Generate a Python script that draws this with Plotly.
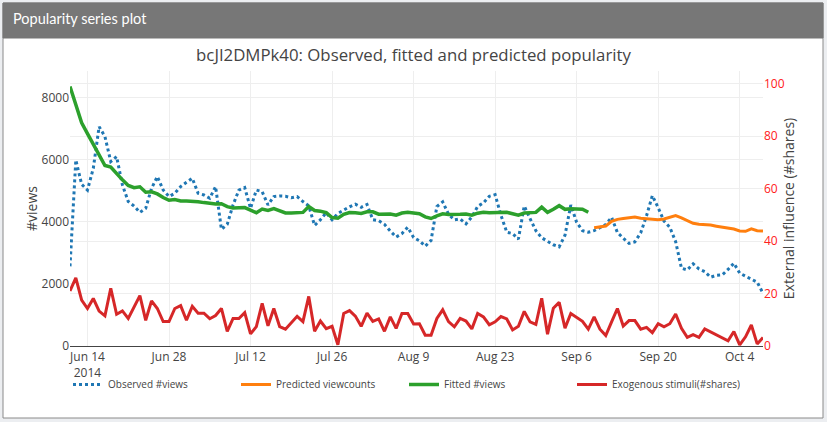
import pandas as pd
import plotly.graph_objects as go

START_DATE = "2014-06-11"
N_DAYS = 120
N_FIT = 90

observed_views = [
    2570, 6000, 5215, 5030, 5730, 7075, 6755, 5950, 6110, 5195,
    4660, 4515, 4310, 4440, 5085, 5465, 5030, 4820, 4925, 5140,
    5280, 5410, 4925, 4870, 4765, 5140, 3765, 3925, 4550, 5030,
    5110, 4440, 5030, 4980, 4550, 4820, 4840, 4830, 4780, 4820,
    4660, 4520, 3890, 4070, 4300, 4070, 4275, 4390, 4490, 4575,
    4475, 4565, 4075, 4045, 3925, 3710, 3515, 3625, 3830, 3500,
    3395, 3220, 3405, 4500, 4650, 4250, 4070, 4100, 3940, 4165,
    4500, 4620, 4830, 4880, 4220, 3670, 3625, 3450, 4515, 4110,
    3720, 3490, 3370, 3265, 3200, 3575, 4550, 3990, 3720, 3670,
    3720, 3820, 3920, 4150, 3660, 3480, 3310, 3360, 3650, 4200,
    4850, 4460, 4030, 3830, 3365, 2508, 2454, 2648, 2487, 2400,
    2218, 2280, 2293, 2470, 2669, 2350, 2240, 2153, 2060, 1702,
]

fitted_views = [
    8370, 7770, 7200, 6850, 6500, 6150, 5820, 5770, 5550, 5360,
    5180, 5105, 5135, 4960, 4975, 4905, 4790, 4700, 4725, 4680,
    4678, 4678, 4655, 4625, 4600, 4580, 4590, 4495, 4455, 4450,
    4465, 4380, 4300, 4415, 4375, 4430, 4370, 4290, 4290, 4305,
    4310, 4500, 4370, 4350, 4300, 4145, 4120, 4245, 4305, 4300,
    4275, 4328, 4328, 4250, 4248, 4260, 4220, 4290, 4310, 4290,
    4265, 4166, 4113, 4197, 4264, 4244, 4236, 4248, 4254, 4220,
    4285, 4312, 4301, 4301, 4321, 4312, 4264, 4220, 4290, 4296,
    4310, 4480, 4312, 4410, 4527, 4408, 4430, 4420, 4410, 4312,
]

predicted_views = [
    3812, 3845, 3870, 4020, 4085, 4112, 4135, 4160, 4120, 4100,
    4072, 4070, 4095, 4140, 4204, 4135, 4035, 3958, 3925, 3917,
    3900, 3865, 3830, 3793, 3772, 3710, 3700, 3780, 3720, 3710,
]

exogenous_shares = [
    21.0, 26.0, 17.5, 14.3, 18.1, 13.3, 11.5, 22.0, 12.1, 13.4,
    10.5, 14.6, 19.2, 9.8, 17.2, 14.3, 9.3, 9.3, 14.3, 15.4,
    9.8, 15.1, 12.5, 12.5, 10.4, 11.6, 14.3, 5.6, 10.5, 10.5,
    12.7, 4.6, 7.4, 16.2, 7.7, 14.3, 7.4, 6.4, 8.8, 11.3,
    9.3, 18.9, 5.6, 9.5, 6.6, 7.5, 0.5, 12.4, 13.5, 11.4,
    7.5, 12.5, 9.4, 10.3, 5.6, 11.1, 6.7, 12.4, 12.4, 8.4,
    8.5, 4.1, 4.1, 10.5, 13.8, 9.3, 7.3, 10.5, 9.5, 6.5,
    12.4, 11.1, 8.1, 9.2, 11.2, 10.3, 6.1, 7.5, 13.2, 9.2,
    8.2, 18.2, 4.5, 14.4, 16.6, 6.8, 12.4, 11.0, 9.4, 6.4,
    11.1, 6.4, 4.0, 9.2, 14.3, 7.6, 9.7, 9.7, 6.4, 7.1,
    5.1, 8.5, 7.3, 8.5, 12.2, 6.7, 3.3, 4.3, 3.3, 6.5,
    5.3, 4.2, 2.9, 2.0, 5.5, 0.4, 3.5, 8.0, 0.8, 3.2,
]

VIDEO_ID = "bcJI2DMPk40"
HEADER = "Popularity series plot"

dates = pd.date_range(START_DATE, periods=N_DAYS, freq="D")
fit_dates = dates[:N_FIT]
pred_dates = dates[N_FIT:]

W, H = 827, 422
ML, MR, MT, MB = 70, 64, 71, 76
PW, PH = W - ML - MR, H - MT - MB


def px_x(px):
    return (px - ML) / PW


def px_y(py):
    return (H - MB - py) / PH


fig = go.Figure()
fig.add_trace(go.Scatter(x=dates, y=observed_views, name="Observed #views", mode="lines",
                         line=dict(color="#1f77b4", width=3, dash="dot")))
fig.add_trace(go.Scatter(x=pred_dates, y=predicted_views, name="Predicted viewcounts", mode="lines",
                         line=dict(color="#ff7f0e", width=3)))
fig.add_trace(go.Scatter(x=fit_dates, y=fitted_views, name="Fitted #views", mode="lines",
                         line=dict(color="#2ca02c", width=3.5)))
fig.add_trace(go.Scatter(x=dates, y=exogenous_shares, name="Exogenous stimuli(#shares)", mode="lines",
                         line=dict(color="#d62728", width=3), yaxis="y2"))

font_family = "Open Sans, verdana, arial, sans-serif"

fig.update_layout(
    width=W, height=H,
    margin=dict(l=ML, r=MR, t=MT, b=MB),
    paper_bgcolor="#eceef1",
    plot_bgcolor="white",
    font=dict(family=font_family, color="#444", size=12),
    title=dict(text=f"{VIDEO_ID}: Observed, fitted and predicted popularity",
               x=0.5, xanchor="center", y=1 - 55 / H, yanchor="middle",
               font=dict(size=16.8, color="#444")),
    xaxis=dict(
        range=[dates[0], dates[-1]],
        tick0="2014-06-14", dtick=14 * 86400000,
        showgrid=True, gridcolor="#eeeeee",
        showline=True, linecolor="#444", linewidth=1,
        zeroline=False,
    ),
    yaxis=dict(
        range=[0, 8870], dtick=2000,
        title=dict(text="#views", font=dict(size=14), standoff=0),
        showgrid=True, gridcolor="#eeeeee",
        zeroline=False,
    ),
    yaxis2=dict(
        overlaying="y", side="right",
        range=[0, 104.8], dtick=20,
        title=dict(text="External influence (#shares)", font=dict(size=14, color="#444"), standoff=0),
        tickfont=dict(color="#ff2020"),
        showgrid=True, gridcolor="#eeeeee",
        zeroline=False,
    ),
    legend=dict(
        orientation="h", x=px_x(68), xanchor="left", y=px_y(370), yanchor="top",
        font=dict(size=10, color="#444"), entrywidth=123, entrywidthmode="pixels",
        bgcolor="rgba(0,0,0,0)",
    ),
    shapes=[
        dict(type="rect", xref="paper", yref="paper", layer="below",
             x0=px_x(3), x1=px_x(823), y0=px_y(418), y1=px_y(3),
             fillcolor="white", line=dict(color="#8a8a8a", width=1)),
        dict(type="rect", xref="paper", yref="paper", layer="below",
             x0=px_x(3), x1=px_x(823), y0=px_y(38), y1=px_y(3),
             fillcolor="#777777", line=dict(color="#777777", width=1)),
    ],
    annotations=[
        dict(text=HEADER, xref="paper", yref="paper", x=px_x(11), y=px_y(19),
             xanchor="left", yanchor="middle", showarrow=False,
             font=dict(family="Lato, sans-serif", size=14.5, color="white")),
    ],
)

fig.write_html(
    "out.html",
    config={"displayModeBar": False},
    post_script="document.body.style.margin='0';document.body.style.padding='0';"
                "document.body.style.overflow='hidden';",
)
